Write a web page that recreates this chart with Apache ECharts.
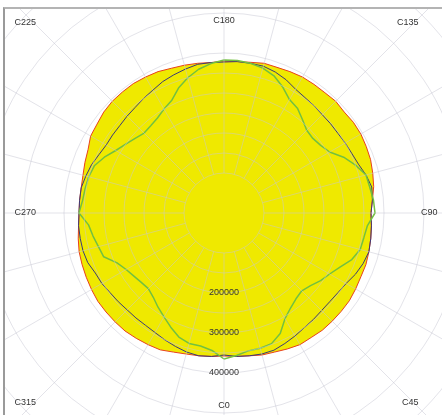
<!DOCTYPE html>
<html>
<head>
<meta charset="utf-8">
<script src="https://cdn.jsdelivr.net/npm/echarts@6/dist/echarts.min.js"></script>
<style>
html,body{margin:0;padding:0;background:#fff;}
#frame{position:absolute;left:3px;top:7px;width:450px;height:420px;border-left:2px solid #9a9a9a;border-top:2px solid #b4b4b4;}
#chart{position:absolute;left:5px;top:9px;width:437px;height:406px;}
</style>
</head>
<body>
<div id="frame"></div>
<div id="chart"></div>
<script>
// Angles (C-planes, degrees)
const angles = [0,5,10,15,20,25,30,35,40,45,50,55,60,65,70,75,80,85,90,95,
  100,105,110,115,120,125,130,135,140,145,150,155,160,165,170,175,180,185,190,195,
  200,205,210,215,220,225,230,235,240,245,250,255,260,265,270,275,280,285,290,295,
  300,305,310,315,320,325,330,335,340,345,350,355];
const angleLabels = ['C0','C45','C90','C135','C180','C225','C270','C315'];
const radiusLabels = [200000, 300000, 400000];

// Series values
const yellowRed = [357500,360000,362500,367500,370000,375000,380000,380000,382500,382500,
  382500,382500,380000,377500,377500,375000,372500,370000,367500,372500,
  380000,385000,390000,392500,395000,395000,392500,395000,392500,392500,
  392500,390000,387500,387500,382500,380000,380000,377500,380000,382500,
  385000,390000,392500,395000,395000,395000,392500,387500,385000,375000,
  370000,365000,362500,362500,362500,365000,370000,375000,377500,380000,
  382500,385000,385000,385000,385000,382500,380000,377500,370000,365000,
  362500,360000];
const navy = [355000,360000,362500,365000,365000,360000,355000,350000,347500,345000,
  345000,347500,352500,362500,370000,375000,372500,370000,367500,372500,
  375000,367500,357500,352500,350000,347500,347500,347500,350000,352500,
  357500,367500,375000,380000,380000,380000,377500,377500,377500,372500,
  367500,362500,355000,350000,345000,342500,340000,340000,340000,345000,
  352500,357500,362500,362500,362500,365000,365000,365000,362500,355000,
  352500,347500,345000,342500,342500,342500,345000,350000,355000,360000,
  362500,360000];
const green = [365000,357500,350000,350000,347500,332500,305000,290000,280000,275000,
  282500,295000,305000,320000,340000,352500,355000,360000,377500,375000,
  370000,367500,350000,330000,305000,295000,290000,292500,305000,320000,
  327500,347500,365000,375000,380000,382500,382500,375000,365000,350000,
  332500,310000,300000,290000,285000,282500,290000,300000,312500,330000,
  345000,350000,352500,355000,362500,340000,332500,325000,320000,295000,
  282500,275000,270000,267500,275000,287500,300000,315000,330000,337500,
  337500,345000];

function toPolar(vals){
  const d = angles.map((a,i)=>[vals[i], a]);
  d.push([vals[0], 360]);
  return d;
}

const FONT = "'Liberation Sans', Arial, sans-serif";
const gridLine = {color:'rgba(200,200,212,0.5)', width:1};
const chart = echarts.init(document.getElementById('chart'), null, {renderer:'canvas'});
const richPad = {
  c45:{padding:[52,0,0,45]},
  c90:{padding:[0,0,0,9]},
  c135:{padding:[0,0,53,40]},
  c225:{padding:[0,55,53,0]},
  c315:{padding:[52,55,0,0]},
  n:{}
};
const hidden = {axisLine:{show:false}, axisTick:{show:false}, axisLabel:{show:false}};
chart.setOption({
  animation:false,
  backgroundColor:'#fff',
  polar:[
    {center:[219,204], radius:[0,184]},
    {center:[219,204], radius:[40,300]},
    {center:[219,204], radius:[60,140]}
  ],
  angleAxis:[
    {polarIndex:0, type:'value', min:0, max:360, interval:45, startAngle:270, clockwise:false,
     axisLine:{show:false}, axisTick:{show:false}, splitLine:{show:false},
     axisLabel:{margin:4, color:'#333', fontSize:9, fontFamily:FONT,
       formatter:function(v){
         const i = Math.round(v/45);
         if (i>=8) return '';
         const t = angleLabels[i];
         const key = richPad[t.toLowerCase()] ? t.toLowerCase() : 'n';
         return '{'+key+'|'+t+'}';
       },
       rich:richPad}, z:6},
    Object.assign({polarIndex:1, type:'value', min:0, max:360, interval:15, startAngle:270, clockwise:false,
     splitLine:{show:true, lineStyle:gridLine}, z:5}, hidden),
    Object.assign({polarIndex:2, type:'value', min:0, max:360, interval:90, startAngle:270, clockwise:false,
     splitLine:{show:false}, z:5}, hidden)
  ],
  radiusAxis:[
    {polarIndex:0, type:'value', min:0, max:460000, interval:100000,
     axisLine:{show:false}, axisTick:{show:false}, splitLine:{show:false},
     axisLabel:{margin:0, align:'center', verticalAlign:'middle', color:'#333', fontSize:9, fontFamily:FONT,
       formatter:function(v){ return radiusLabels.indexOf(v)>=0 ? String(v) : ''; }}, z:6},
    Object.assign({polarIndex:1, type:'value', min:100000, max:750000, interval:100000,
     splitLine:{show:true, lineStyle:gridLine}, z:5}, hidden),
    Object.assign({polarIndex:2, type:'value', min:150000, max:350000, interval:100000,
     splitLine:{show:true, lineStyle:gridLine}, z:5}, hidden)
  ],
  series:[
    {type:'line', coordinateSystem:'polar', polarIndex:0, data:toPolar(yellowRed), symbol:'none', smooth:false,
     lineStyle:{color:'#e8401c', width:1}, areaStyle:{color:'#efe900', opacity:1}, z:2},
    {type:'line', coordinateSystem:'polar', polarIndex:0, data:toPolar(navy), symbol:'none', smooth:false,
     lineStyle:{color:'#3a3a78', width:1}, z:3},
    {type:'line', coordinateSystem:'polar', polarIndex:0, data:toPolar(green), symbol:'none', smooth:false,
     lineStyle:{color:'#72c040', width:1.5}, z:4}
  ]
});
</script>
</body>
</html>
